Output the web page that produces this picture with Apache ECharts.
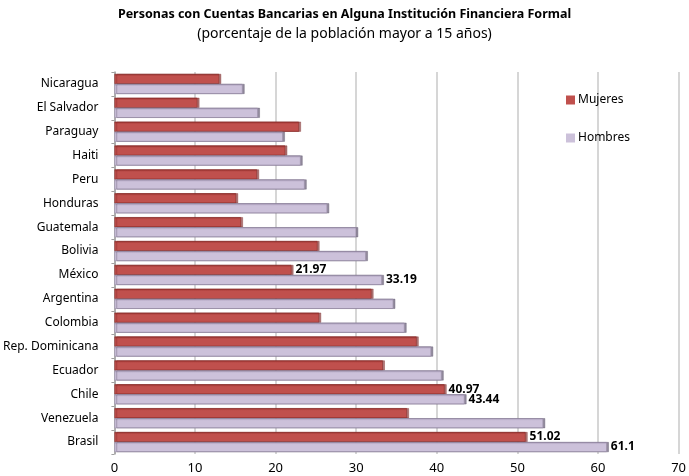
<!DOCTYPE html>
<html lang="es">
  <head>
    <meta charset="utf-8">
    <title>Personas con Cuentas Bancarias</title>
    <script src="https://cdn.jsdelivr.net/npm/echarts@6/dist/echarts.min.js"></script>
    <style>
      html, body { margin: 0; padding: 0; background: #fff; }
    </style>
  </head>
  <body>
    <div id="main" style="width: 689px; height: 476px"></div>
    <script type="text/javascript">
      // datos (de arriba hacia abajo)
      var paises = ['Nicaragua', 'El Salvador', 'Paraguay', 'Haiti', 'Peru', 'Honduras', 'Guatemala', 'Bolivia',
                    'México', 'Argentina', 'Colombia', 'Rep. Dominicana', 'Ecuador', 'Chile', 'Venezuela', 'Brasil'];
      var mujeres = [13.0, 10.3, 22.9, 21.2, 17.7, 15.1, 15.7, 25.2, 21.97, 31.9, 25.4, 37.5, 33.3, 40.97, 36.3, 51.02];
      var hombres = [15.9, 17.8, 20.9, 23.1, 23.6, 26.4, 30.0, 31.2, 33.19, 34.6, 36.0, 39.3, 40.6, 43.44, 53.2, 61.1];
      // solo estos paises llevan etiqueta
      var conEtiqueta = ['México', 'Chile', 'Brasil'];
      var ticksX = [0, 10, 20, 30, 40, 50, 60, 70];

      var fuente = '"Noto Sans", sans-serif';

      function datos(valores) {
        return valores.map(function (v, i) {
          return {
            value: v,
            label: { show: conEtiqueta.indexOf(paises[i]) >= 0 }
          };
        });
      }

      var myChart = echarts.init(document.getElementById('main'));

      var etiqueta = {
        position: 'right',
        distance: 4,
        color: '#000',
        fontWeight: 'bold',
        fontSize: 12,
        fontFamily: fuente
      };

      var option = {
        animation: false,
        title: {
          text: 'Personas con Cuentas Bancarias en Alguna Institución Financiera Formal',
          subtext: '(porcentaje de la población mayor a 15 años)',
          left: 'center',
          top: 3,
          itemGap: 6,
          textStyle: { fontSize: 12.5, fontWeight: 'bold', color: '#000', fontFamily: fuente },
          subtextStyle: { fontSize: 14, color: '#000', fontFamily: fuente }
        },
        legend: {
          orient: 'vertical',
          left: 561,
          top: 89,
          itemGap: 26,
          itemWidth: 9,
          itemHeight: 9,
          icon: 'rect',
          itemStyle: { borderWidth: 0, shadowColor: 'transparent' },
          textStyle: { fontSize: 12, color: '#000', fontFamily: fuente, padding: [0, 0, 0, -2] },
          data: [
            { name: 'Mujeres', itemStyle: { color: '#c0504d' } },
            { name: 'Hombres', itemStyle: { color: '#ccc1da' } }
          ]
        },
        grid: { left: 114, right: 9, top: 72, bottom: 22 },
        xAxis: {
          type: 'value',
          min: ticksX[0],
          max: ticksX[ticksX.length - 1],
          interval: 10,
          axisLine: { show: false },
          axisTick: { show: false },
          axisLabel: { fontSize: 13, color: '#000', margin: 8, fontFamily: fuente },
          splitLine: { lineStyle: { color: '#c8c8c8', width: 1.5 } }
        },
        yAxis: {
          type: 'category',
          inverse: true,
          data: paises,
          axisLine: { lineStyle: { color: '#a0a0a0', width: 1.5 } },
          axisTick: { show: true, length: 3, lineStyle: { color: '#a0a0a0' } },
          axisLabel: { fontSize: 12, color: '#000', margin: 16, fontFamily: fuente }
        },
        series: [
          {
            name: 'Mujeres',
            type: 'bar',
            barGap: '0%',
            barCategoryGap: '16%',
            data: datos(mujeres),
            label: etiqueta,
            itemStyle: {
              color: new echarts.graphic.LinearGradient(0, 0, 0, 1, [
                { offset: 0, color: '#9e3532' },
                { offset: 0.25, color: '#c0504d' },
                { offset: 1, color: '#c0504d' }
              ]),
              borderColor: '#8c2f2c',
              borderWidth: 0.6,
              shadowColor: 'rgba(120,30,30,0.6)',
              shadowOffsetX: 2,
              shadowOffsetY: 0,
              shadowBlur: 0
            }
          },
          {
            name: 'Hombres',
            type: 'bar',
            data: datos(hombres),
            label: etiqueta,
            itemStyle: {
              color: new echarts.graphic.LinearGradient(0, 0, 0, 1, [
                { offset: 0, color: '#a89bb8' },
                { offset: 0.25, color: '#ccc1da' },
                { offset: 1, color: '#ccc1da' }
              ]),
              borderColor: '#9a8eaa',
              borderWidth: 0.6,
              shadowColor: 'rgba(100,90,115,0.7)',
              shadowOffsetX: 2,
              shadowOffsetY: 0,
              shadowBlur: 0
            }
          }
        ]
      };

      myChart.setOption(option);
    </script>
  </body>
</html>
